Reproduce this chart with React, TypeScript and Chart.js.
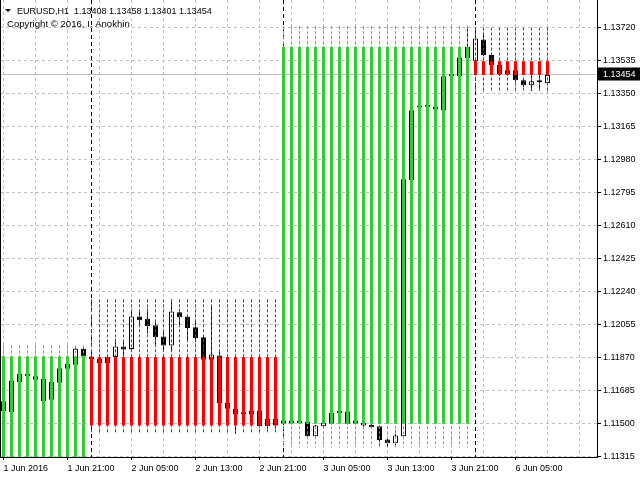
import React, { useEffect, useRef } from 'react';
import { Chart, registerables } from 'chart.js';

Chart.register(...registerables);

// ---- data ----
const timeLabels = ['1 Jun 2016', '1 Jun 21:00', '2 Jun 05:00', '2 Jun 13:00', '2 Jun 21:00', '3 Jun 05:00', '3 Jun 13:00', '3 Jun 21:00', '6 Jun 05:00'];
const yTicks = [1.11315, 1.115, 1.11685, 1.1187, 1.12055, 1.1224, 1.12425, 1.1261, 1.12795, 1.1298, 1.13165, 1.1335, 1.13535, 1.1372];

const opens = [
  1.11625, 1.11563, 1.11732, 1.11779, 1.11764, 1.11751, 1.11633, 1.11728, 1.11807, 1.11829, 1.11919,
  1.11876, 1.11863, 1.11838, 1.11872, 1.11932, 1.11917, 1.121, 1.12087, 1.1205, 1.11988, 1.11937, 1.12124, 1.121, 1.1204, 1.11984, 1.11857, 1.11881, 1.11616, 1.11582, 1.11551, 1.1155, 1.11573, 1.11485, 1.11526,
  1.11498, 1.11517, 1.11503, 1.11511, 1.11428, 1.11485, 1.11498, 1.11558, 1.11567, 1.11498, 1.11489, 1.11492, 1.11485, 1.1141, 1.11389, 1.11429, 1.12863, 1.13272, 1.13276, 1.13275, 1.13256, 1.13447, 1.13447, 1.13549,
  1.13531, 1.13653, 1.13565, 1.13509, 1.13458, 1.1348, 1.13424, 1.13396, 1.13415, 1.13408,
];
const highs = [
  1.11632, 1.11745, 1.11785, 1.1179, 1.1177, 1.1176, 1.1174, 1.11881, 1.1184, 1.11925, 1.1193,
  1.1189, 1.1187, 1.11876, 1.11975, 1.11966, 1.12128, 1.12134, 1.12145, 1.12068, 1.12012, 1.12196, 1.12143, 1.1211, 1.12068, 1.1199, 1.12152, 1.11909, 1.11618, 1.11585, 1.11558, 1.11576, 1.11576, 1.1153, 1.1153,
  1.11525, 1.11522, 1.1152, 1.11515, 1.11492, 1.11508, 1.1156, 1.1157, 1.1157, 1.11522, 1.11508, 1.11496, 1.11488, 1.11413, 1.11461, 1.12872, 1.1326, 1.1328, 1.1328, 1.13278, 1.1345, 1.13456, 1.13555, 1.13727,
  1.1372, 1.13686, 1.13568, 1.13512, 1.13485, 1.13485, 1.13428, 1.13452, 1.13452, 1.13458,
];
const lows = [
  1.1156, 1.11555, 1.11725, 1.1176, 1.1174, 1.1162, 1.11625, 1.11725, 1.118, 1.11825, 1.1187,
  1.1185, 1.1183, 1.1183, 1.11865, 1.11872, 1.1191, 1.12059, 1.12005, 1.11937, 1.119, 1.119, 1.1205, 1.11966, 1.11966, 1.1185, 1.1185, 1.1161, 1.11578, 1.11442, 1.11548, 1.11545, 1.1148, 1.1147, 1.11472,
  1.1149, 1.11495, 1.11498, 1.11416, 1.11418, 1.1148, 1.11495, 1.11554, 1.11495, 1.11495, 1.1147, 1.11476, 1.11376, 1.11367, 1.11376, 1.11425, 1.1286, 1.13268, 1.1327, 1.13255, 1.13254, 1.1344, 1.1344, 1.13545,
  1.13525, 1.1356, 1.13505, 1.1345, 1.13452, 1.13415, 1.13387, 1.13364, 1.13368, 1.13401,
];
const closes = [
  1.11569, 1.11741, 1.11779, 1.11765, 1.11745, 1.11625, 1.11732, 1.1181, 1.11833, 1.11919, 1.11876,
  1.11862, 1.11838, 1.11872, 1.11932, 1.11915, 1.121, 1.12078, 1.12046, 1.11984, 1.11937, 1.12128, 1.12096, 1.12035, 1.11978, 1.11857, 1.11887, 1.11614, 1.11582, 1.1155, 1.11554, 1.11573, 1.11485, 1.11526, 1.11489,
  1.11517, 1.115, 1.11516, 1.11429, 1.11489, 1.11504, 1.11558, 1.11567, 1.11498, 1.11517, 1.11504, 1.11479, 1.11408, 1.11389, 1.11432, 1.12869, 1.13256, 1.13276, 1.13275, 1.1326, 1.13447, 1.13452, 1.13552, 1.13611,
  1.13658, 1.13565, 1.13509, 1.13458, 1.1348, 1.13424, 1.13396, 1.13419, 1.13413, 1.13454,
];

// daily candle drawn by the indicator
const dayFirstBar = [0, 11, 35, 59];
const dayOpen = [1.1129, 1.11872, 1.11498, 1.13531];
const dayHigh = [1.11937, 1.12196, 1.13727, 1.1372];
const dayLow = [1.1125, 1.11442, 1.11367, 1.13363];
const dayClose = [1.11876, 1.11489, 1.13611, 1.13454];

const symbolTitle = 'EURUSD,H1';
const copyrightText = 'Copyright \u00A9 2016, I. Anokhin';

// axis ranges
const yMin = 1.11312;
const yMax = 1.13874;
const xMin = -0.4375;
const xMax = 74.1875;
const gridEvery = 4;
const labelEvery = 8;

// ---- derived ----
const UP = '#32CD32';
const DOWN = '#FF0000';
const FONT = 'Liberation Sans';

const barIdx = opens.map((_, i) => i);
const dayOf = barIdx.map((i) => {
  let d = 0;
  dayFirstBar.forEach((b, j) => { if (i >= b) d = j; });
  return d;
});
const lastO = opens[opens.length - 1];
const lastH = highs[highs.length - 1];
const lastL = lows[lows.length - 1];
const lastC = closes[closes.length - 1];
const fmt = (v: number) => v.toFixed(5);

const labelFor = (v: number) => (v % labelEvery === 0 ? timeLabels[v / labelEvery] ?? '' : '');

const wickData = barIdx.map((i) => ({ x: i, y: [lows[i], highs[i]] }));
const bodyData = barIdx.map((i) => ({ x: i, y: [Math.min(opens[i], closes[i]), Math.max(opens[i], closes[i])] }));
const bodyFill = barIdx.map((i) => (closes[i] >= opens[i] ? '#FFFFFF' : '#000000'));
const dayBodyData = barIdx.map((i) => {
  const d = dayOf[i];
  return { x: i, y: [Math.min(dayOpen[d], dayClose[d]), Math.max(dayOpen[d], dayClose[d])] };
});
const dayBodyColor = barIdx.map((i) => (dayClose[dayOf[i]] >= dayOpen[dayOf[i]] ? UP : DOWN));
const dashUp: any[] = [];
const dashDown: any[] = [];
barIdx.forEach((i) => {
  const d = dayOf[i];
  const target = dayClose[d] >= dayOpen[d] ? dashUp : dashDown;
  target.push({ x: i, y: dayHigh[d] }, { x: i, y: dayLow[d] }, { x: i, y: null });
});

const mtPlugin = {
  id: 'mtDecor',
  beforeDatasetsDraw(chart: any) {
    const { ctx, chartArea: a, scales } = chart;
    const x = scales.x;
    const y = scales.y;
    ctx.save();
    const py = Math.round(y.getPixelForValue(lastC) - 0.5) + 0.5;
    ctx.strokeStyle = '#C0C0C0';
    ctx.lineWidth = 1;
    ctx.beginPath();
    ctx.moveTo(a.left, py);
    ctx.lineTo(a.right, py);
    ctx.stroke();
    ctx.strokeStyle = '#000000';
    ctx.setLineDash([4, 3]);
    dayFirstBar.slice(1).forEach((b) => {
      const px = x.getPixelForValue(b);
      ctx.beginPath();
      ctx.moveTo(px, a.top);
      ctx.lineTo(px, a.bottom);
      ctx.stroke();
    });
    ctx.restore();
  },
  afterDraw(chart: any) {
    const { ctx, chartArea: a, scales } = chart;
    const y = scales.y;
    ctx.save();
    // left frame
    ctx.strokeStyle = '#000';
    ctx.lineWidth = 1;
    ctx.beginPath();
    ctx.moveTo(a.left + 0.5, a.top);
    ctx.lineTo(a.left + 0.5, a.bottom);
    ctx.stroke();
    // header
    ctx.fillStyle = '#000';
    ctx.beginPath();
    ctx.moveTo(5, 9);
    ctx.lineTo(11, 9);
    ctx.lineTo(8, 12);
    ctx.closePath();
    ctx.fill();
    ctx.textBaseline = 'alphabetic';
    ctx.textAlign = 'left';
    ctx.font = `9px "${FONT}"`;
    ctx.fillText(`${symbolTitle}  ${fmt(lastO)} ${fmt(lastH)} ${fmt(lastL)} ${fmt(lastC)}`, 17, 14);
    ctx.font = `9.6px "${FONT}"`;
    ctx.fillText(copyrightText, 7, 27);
    // current price tag
    const py = Math.round(y.getPixelForValue(lastC) - 0.5) + 0.5;
    ctx.fillStyle = '#000';
    ctx.fillRect(a.right + 1, py - 7, chart.width - a.right - 1, 13);
    ctx.fillStyle = '#FFF';
    ctx.font = `9px "${FONT}"`;
    ctx.textBaseline = 'middle';
    ctx.fillText(fmt(lastC), a.right + 6, py);
    ctx.restore();
  },
};

export default function App() {
  const ref = useRef<HTMLCanvasElement>(null);
  useEffect(() => {
    const chart = new Chart(ref.current as HTMLCanvasElement, {
      type: 'bar',
      data: {
        datasets: [
          {
            type: 'bar',
            data: dayBodyData as any,
            backgroundColor: dayBodyColor,
            borderWidth: 0,
            barThickness: 3,
            grouped: false,
            inflateAmount: 0,
            order: 1,
          } as any,
          {
            type: 'line',
            data: dashUp,
            borderColor: UP,
            borderWidth: 1,
            borderDash: [3, 2],
            pointRadius: 0,
            spanGaps: false,
            order: 2,
          } as any,
          {
            type: 'line',
            data: dashDown,
            borderColor: DOWN,
            borderWidth: 1,
            borderDash: [3, 2],
            pointRadius: 0,
            spanGaps: false,
            order: 2,
          } as any,
          {
            type: 'bar',
            data: bodyData as any,
            backgroundColor: bodyFill,
            borderColor: '#000',
            borderWidth: 1,
            borderSkipped: false,
            barThickness: 5,
            minBarLength: 2,
            grouped: false,
            inflateAmount: 0,
            order: 4,
          } as any,
          {
            type: 'bar',
            data: wickData as any,
            backgroundColor: '#000',
            borderWidth: 0,
            barThickness: 1,
            grouped: false,
            inflateAmount: 0,
            order: 5,
          } as any,
        ],
      },
      options: {
        animation: false,
        responsive: false,
        events: [],
        layout: { padding: 0 },
        plugins: { legend: { display: false }, tooltip: { enabled: false }, title: { display: false } },
        scales: {
          x: {
            type: 'linear',
            min: xMin,
            max: xMax,
            offset: false,
            afterBuildTicks: (s: any) => {
              const t = [];
              for (let v = 0; v <= xMax; v += gridEvery) t.push({ value: v });
              s.ticks = t;
            },
            afterFit: (s: any) => {
              s.height = 23;
              s.paddingLeft = 0;
              s.paddingRight = 0;
            },
            ticks: {
              autoSkip: false,
              maxRotation: 0,
              minRotation: 0,
              align: 'start',
              padding: 3,
              color: '#000',
              font: { family: FONT, size: 9 },
              callback: (v: any) => labelFor(Number(v)),
            },
            grid: {
              color: '#C0C0C0',
              lineWidth: 1,
              offset: false,
              drawTicks: true,
              tickLength: 3,
              tickColor: (c: any) => (c.tick && labelFor(c.tick.value) ? '#000' : 'rgba(0,0,0,0)'),
            },
            border: { display: true, color: '#000', width: 1, dash: [3, 3] },
          } as any,
          y: {
            type: 'linear',
            position: 'right',
            min: yMin,
            max: yMax,
            afterBuildTicks: (s: any) => {
              s.ticks = yTicks.map((v) => ({ value: v }));
            },
            afterFit: (s: any) => {
              s.width = 43;
              s.paddingTop = 0;
              s.paddingBottom = 0;
            },
            ticks: {
              autoSkip: false,
              padding: 2,
              color: '#000',
              font: { family: FONT, size: 9 },
              callback: (v: any) => fmt(Number(v)),
            },
            grid: { color: '#C0C0C0', lineWidth: 1, drawTicks: true, tickLength: 4, tickColor: '#000' },
            border: { display: true, color: '#000', width: 1, dash: [3, 3] },
          } as any,
        },
      },
      plugins: [mtPlugin],
    });
    return () => chart.destroy();
  }, []);
  return (
    <div style={{ position: 'fixed', left: 0, top: 0, width: 640, height: 480, background: '#FFFFFF' }}>
      <canvas ref={ref} width={640} height={480} style={{ display: 'block' }} />
    </div>
  );
}
